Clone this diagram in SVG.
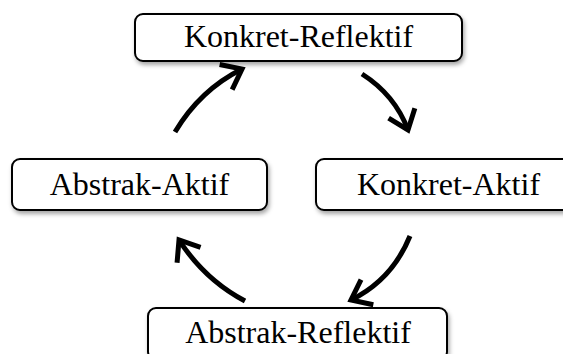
<svg xmlns="http://www.w3.org/2000/svg" width="563" height="354" viewBox="0 0 563 354">
<style>
.box{fill:#fff;stroke:#000;stroke-width:2;filter:url(#sh)}
.lbl{font-family:"Liberation Serif","Times New Roman",serif;font-size:32px;fill:#000;text-anchor:middle}
.arr{fill:none;stroke:#000;stroke-width:5;stroke-linecap:butt;marker-end:url(#ah)}
</style>
<defs>
<filter id="sh" x="-10%" y="-20%" width="120%" height="150%">
<feDropShadow dx="1.5" dy="3" stdDeviation="2" flood-color="#000" flood-opacity="0.35"/>
</filter>
<marker id="ah" markerUnits="userSpaceOnUse" markerWidth="50" markerHeight="50" viewBox="-30 -25 50 50" refX="0" refY="0" orient="auto" overflow="visible">
<path d="M-18,-14 L0,0 L-18,14" fill="none" stroke="#000" stroke-width="5" stroke-linejoin="miter"/>
</marker>
</defs>
<rect width="563" height="354" fill="#fff"/>
<g id="connectors">
<path class="arr" d="M175,132 Q200,90 242,69"/>
<path class="arr" d="M362,74 Q395,95 408,130"/>
<path class="arr" d="M410,236 Q392,280 351,300"/>
<path class="arr" d="M245,301 Q205,280 179,240"/>
</g>
<g id="node-konkret-reflektif">
<rect class="box" x="135" y="14" width="327" height="47" rx="8"/>
<text class="lbl" x="298.5" y="47">Konkret-Reflektif</text>
</g>
<g id="node-abstrak-aktif">
<rect class="box" x="12" y="159" width="255" height="51" rx="8"/>
<text class="lbl" x="139.5" y="195">Abstrak-Aktif</text>
</g>
<g id="node-konkret-aktif">
<rect class="box" x="316" y="159" width="265" height="51" rx="8"/>
<text class="lbl" x="448.5" y="195">Konkret-Aktif</text>
</g>
<g id="node-abstrak-reflektif">
<rect class="box" x="148" y="308" width="299" height="52" rx="8"/>
<text class="lbl" x="298" y="343">Abstrak-Reflektif</text>
</g>
</svg>
